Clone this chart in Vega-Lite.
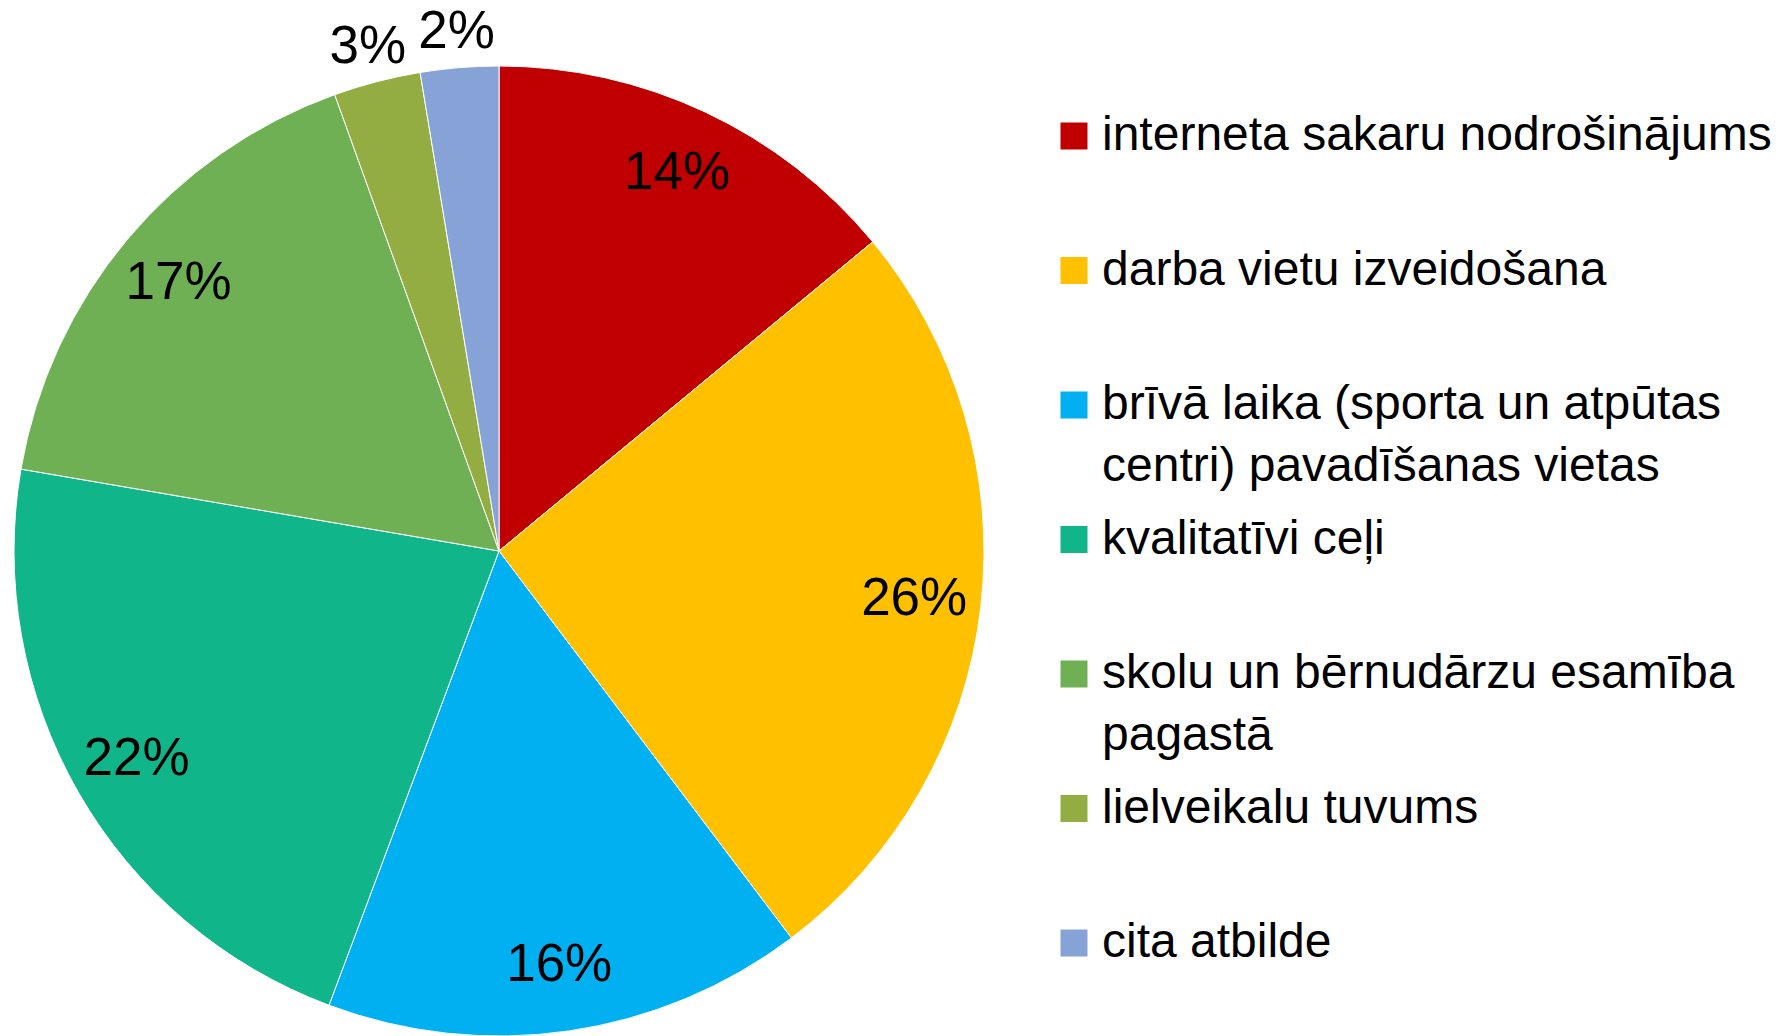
{
  "$schema": "https://vega.github.io/schema/vega-lite/v6.json",
  "autosize": {"type": "none"},
  "width": 970,
  "height": 970,
  "padding": {"left": 14, "top": 66, "right": 807, "bottom": 0},
  "background": "white",
  "data": {
    "values": [
      {"idx": 1, "category": "interneta sakaru nodrošinājums", "value": 14.0, "label": "14%"},
      {"idx": 2, "category": "darba vietu izveidošana", "value": 25.7, "label": "26%"},
      {"idx": 3, "category": "brīvā laika (sporta un atpūtas centri) pavadīšanas vietas", "value": 16.0, "label": "16%"},
      {"idx": 4, "category": "kvalitatīvi ceļi", "value": 22.0, "label": "22%"},
      {"idx": 5, "category": "skolu un bērnudārzu esamība pagastā", "value": 16.8, "label": "17%"},
      {"idx": 6, "category": "lielveikalu tuvums", "value": 2.9, "label": "3%"},
      {"idx": 7, "category": "cita atbilde", "value": 2.6, "label": "2%"}
    ]
  },
  "encoding": {
    "theta": {"field": "value", "type": "quantitative", "stack": true},
    "order": {"field": "idx", "type": "quantitative"},
    "color": {
      "field": "category",
      "type": "nominal",
      "scale": {
        "domain": [
          "interneta sakaru nodrošinājums",
          "darba vietu izveidošana",
          "brīvā laika (sporta un atpūtas centri) pavadīšanas vietas",
          "kvalitatīvi ceļi",
          "skolu un bērnudārzu esamība pagastā",
          "lielveikalu tuvums",
          "cita atbilde"
        ],
        "range": ["#C00000", "#FFC000", "#00B0F0", "#10B68A", "#70B055", "#93AD42", "#87A2D6"]
      },
      "legend": {
        "title": null,
        "orient": "none",
        "legendX": 1036,
        "legendY": 46,
        "padding": 0,
        "symbolType": "square",
        "symbolSize": 729,
        "symbolStrokeWidth": 0,
        "symbolOpacity": 1,
        "labelFont": "Liberation Sans",
        "labelFontSize": 48,
        "labelColor": "#000000",
        "labelLimit": 1200,
        "labelOffset": 4,
        "rowPadding": 24.5,
        "gridAlign": "all",
        "labelExpr": "datum.label == 'brīvā laika (sporta un atpūtas centri) pavadīšanas vietas' ? ['brīvā laika (sporta un atpūtas', 'centri) pavadīšanas vietas'] : datum.label == 'skolu un bērnudārzu esamība pagastā' ? ['skolu un bērnudārzu esamība', 'pagastā'] : datum.label"
      }
    }
  },
  "layer": [
    {
      "mark": {"type": "arc", "stroke": "white", "strokeWidth": 1}
    },
    {
      "mark": {"type": "text", "radius": 418, "font": "Liberation Sans", "fontSize": 53, "color": "#000000", "align": "center", "baseline": "middle"},
      "encoding": {
        "text": {"field": "label"},
        "color": {"value": "#000000"},
        "opacity": {"condition": {"test": "datum.value < 5", "value": 0}, "value": 1}
      }
    },
    {
      "mark": {"type": "text", "radius": 521, "font": "Liberation Sans", "fontSize": 53, "color": "#000000", "align": "center", "baseline": "middle"},
      "encoding": {
        "text": {"field": "label"},
        "color": {"value": "#000000"},
        "opacity": {"condition": {"test": "datum.value < 5", "value": 1}, "value": 0}
      }
    }
  ],
  "config": {
    "view": {"stroke": null},
    "style": {"guide-label": {"lineHeight": 62}}
  }
}
